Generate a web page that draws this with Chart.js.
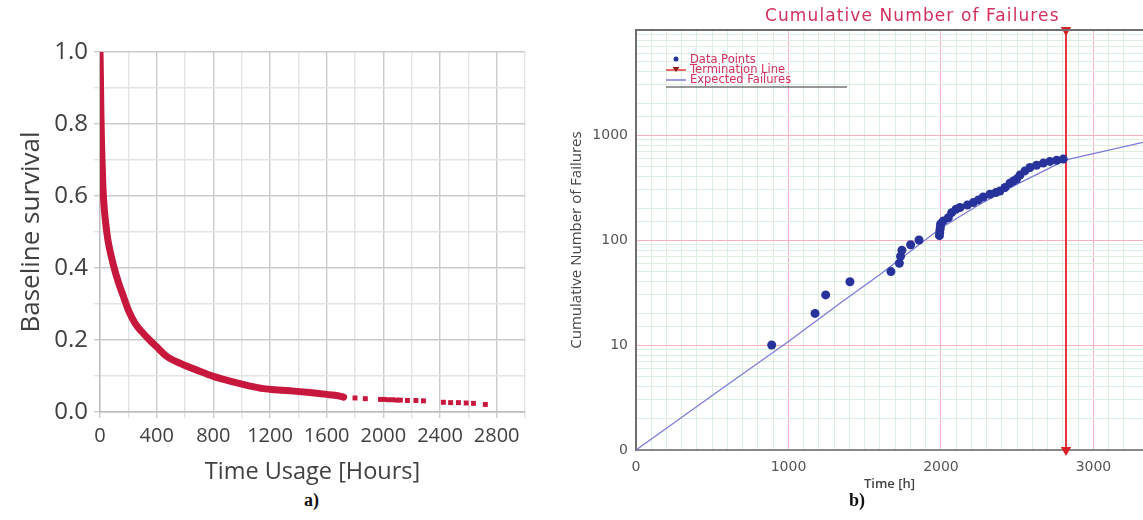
<!DOCTYPE html>
<html>
<head>
<meta charset="utf-8">
<script src="https://cdn.jsdelivr.net/npm/chart.js@4.4.0/dist/chart.umd.min.js"></script>
<style>
  body { margin: 0; background: #fff; width: 1143px; height: 520px; position: relative; overflow: hidden; }
  .box { position: absolute; }
  .cap { position: absolute; font: bold 18px "Liberation Serif", serif; color: #111; }
  #failTitle { position: absolute; left: 765px; top: 5px; font: 17px "DejaVu Sans", sans-serif; letter-spacing: 1.1px; color: #d3305c; white-space: nowrap; }
</style>
</head>
<body>
<div class="box" style="left:0;top:0;width:560px;height:490px"><canvas id="survChart" width="560" height="490"></canvas></div>
<div class="box" style="left:560px;top:0;width:583px;height:495px"><canvas id="failChart" width="583" height="495"></canvas></div>
<div id="failTitle">Cumulative Number of Failures</div>
<div class="cap" style="left:304px;top:490px">a)</div>
<div class="cap" style="left:849px;top:490px">b)</div>

<script>
// a) baseline survival curve (read off the picture)
const survTimes  = [0, 3, 6, 10, 15, 20, 30, 40, 55, 75, 100, 130, 160, 200, 250, 300, 350, 400, 470, 560, 680, 800, 880, 966, 1060, 1154, 1260, 1366, 1480, 1600, 1680, 1720];
const survValues = [1.0, 0.93, 0.84, 0.76, 0.69, 0.63, 0.565, 0.525, 0.48, 0.44, 0.40, 0.36, 0.327, 0.283, 0.245, 0.221, 0.2, 0.181, 0.155, 0.136, 0.117, 0.099, 0.09, 0.081, 0.072, 0.065, 0.061, 0.058, 0.054, 0.049, 0.045, 0.041];
const tailTimes  = [1800, 1873, 1980, 2005, 2035, 2065, 2095, 2120, 2170, 2230, 2283, 2424, 2475, 2530, 2585, 2636, 2720];
const tailValues = [0.039, 0.037, 0.035, 0.035, 0.034, 0.034, 0.033, 0.033, 0.032, 0.032, 0.031, 0.027, 0.026, 0.026, 0.025, 0.024, 0.021];

// b) cumulative number of failures
const failTimes  = [890, 1174, 1244, 1403, 1672, 1727, 1735, 1744, 1801, 1856, 1990, 1992, 1994, 1996, 1998, 2015, 2048, 2070, 2098, 2125, 2173, 2212, 2245, 2277, 2321, 2360, 2387, 2420, 2452, 2475, 2496, 2518, 2551, 2584, 2627, 2671, 2715, 2759, 2802];
const failCounts = [10, 20, 30, 40, 50, 60, 70, 80, 90, 100, 110, 118, 126, 134, 142, 152, 163, 182, 196, 204, 215, 227, 241, 257, 273, 283, 293, 316, 348, 365, 380, 415, 455, 490, 515, 540, 560, 575, 590];
const expectedTimes  = [0, 500, 1000, 1338, 1600, 2000, 2256, 2500, 2820, 3325];
const expectedCounts = [1, 3.3, 10.8, 25, 47, 130, 219, 340, 580, 850];
const terminationTime = 2820;
const failTickValues = [1, 10, 100, 1000];
const failTickLabels = ['0', '10', '100', '1000'];

function pts(xs, ys) {
    return xs.map((x, i) => ({ x: x, y: ys[i] }));
}

const red = '#c8173c';
const txt = '#404040';
const sans = 'Open Sans';

new Chart(document.getElementById('survChart'), {
    type: 'scatter',
    data: {
        datasets: [{
            label: 'Baseline survival',
            data: pts(survTimes, survValues),
            showLine: true,
            cubicInterpolationMode: 'monotone',
            borderColor: red,
            borderWidth: 7,
            borderCapStyle: 'round',
            borderJoinStyle: 'round',
            pointRadius: 0
        }, {
            label: 'tail',
            data: pts(tailTimes, tailValues),
            pointStyle: 'rect',
            pointRadius: 3.5,
            backgroundColor: red,
            borderWidth: 0
        }]
    },
    options: {
        responsive: false,
        animation: false,
        layout: { autoPadding: false, padding: { top: 52, right: 35, left: 0, bottom: 0 } },
        plugins: { legend: { display: false }, tooltip: { enabled: false } },
        scales: {
            x: {
                type: 'linear', min: 0, max: 3000,
                afterFit: s => { s.height = 78; },
                ticks: {
                    stepSize: 200, autoSkip: false, maxRotation: 0, padding: 6,
                    color: txt, font: { family: sans, size: 20 },
                    callback: v => (v % 400 === 0 ? String(v) : '')
                },
                grid: {
                    color: c => (c.tick && c.tick.value % 400 === 0 ? '#cbcbcb' : '#e4e4e4'),
                    lineWidth: 1.4, tickLength: 6
                },
                border: { color: '#bdbdbd', width: 1.4 },
                title: { display: true, text: 'Time Usage [Hours]', color: txt, font: { family: sans, size: 23.5 }, padding: { top: 0, bottom: 4 } }
            },
            y: {
                min: 0, max: 1,
                afterFit: s => { s.width = 100; },
                ticks: {
                    stepSize: 0.1, autoSkip: false, padding: 6,
                    color: txt, font: { family: sans, size: 24 },
                    callback: v => (Math.round(v * 10) % 2 === 0 ? v.toFixed(1) : '')
                },
                grid: {
                    color: c => (c.tick && Math.round(c.tick.value * 10) % 2 === 0 ? '#cbcbcb' : '#e4e4e4'),
                    lineWidth: 1.4, tickLength: 6
                },
                border: { color: '#bdbdbd', width: 1.4 },
                title: { display: true, text: 'Baseline survival', color: txt, font: { family: sans, size: 26 }, padding: { top: 16, bottom: 0 } }
            }
        }
    }
});

// frame line on top of the plot and the small legend box of b)
const failDecor = {
    id: 'failDecor',
    afterDraw(chart) {
        const ctx = chart.ctx, a = chart.chartArea;
        ctx.save();
        ctx.strokeStyle = '#6f6f6f';
        ctx.lineWidth = 2;
        ctx.beginPath();
        ctx.moveTo(a.left, a.top);
        ctx.lineTo(a.right, a.top);
        ctx.stroke();

        const ds = chart.data.datasets;
        const lx = a.left + 40, tx = a.left + 54;
        ctx.font = '11.5px "DejaVu Sans"';
        ctx.textBaseline = 'middle';
        ds.forEach((d, i) => {
            const y = a.top + 30 + i * 10;
            if (i === 0) {
                ctx.fillStyle = d.backgroundColor;
                ctx.beginPath();
                ctx.arc(lx, y - 1, 2.5, 0, Math.PI * 2);
                ctx.fill();
            } else {
                ctx.strokeStyle = d.borderColor;
                ctx.lineWidth = 1.5;
                ctx.beginPath();
                ctx.moveTo(lx - 10, y);
                ctx.lineTo(lx + 10, y);
                ctx.stroke();
                if (i === 1) {
                    ctx.fillStyle = '#8a1c1c';
                    ctx.beginPath();
                    ctx.moveTo(lx - 3.5, y - 3);
                    ctx.lineTo(lx + 3.5, y - 3);
                    ctx.lineTo(lx, y + 2);
                    ctx.fill();
                }
            }
            ctx.fillStyle = '#d3305c';
            ctx.fillText(d.label, tx, y);
        });
        ctx.strokeStyle = '#333';
        ctx.lineWidth = 1.2;
        ctx.beginPath();
        ctx.moveTo(a.left + 30, a.top + 57);
        ctx.lineTo(a.left + 211, a.top + 57);
        ctx.stroke();
        ctx.restore();
    }
};

const pink = '#f5b3c0';
const green = '#dcefe0';

new Chart(document.getElementById('failChart'), {
    type: 'scatter',
    data: {
        datasets: [{
            label: 'Data Points',
            data: pts(failTimes, failCounts),
            pointRadius: 4.5,
            backgroundColor: '#27339a',
            borderColor: '#27339a',
            borderWidth: 0
        }, {
            label: 'Termination Line',
            data: [{ x: terminationTime, y: 1 }, { x: terminationTime, y: 10000 }],
            showLine: true,
            borderColor: '#e8353d',
            borderWidth: 2,
            pointStyle: 'triangle',
            rotation: 180,
            pointRadius: 6,
            backgroundColor: '#d81f24',
            pointBorderWidth: 0,
            clip: false
        }, {
            label: 'Expected Failures',
            data: pts(expectedTimes, expectedCounts),
            showLine: true,
            borderColor: '#7c7cd8',
            borderWidth: 1.3,
            pointRadius: 0
        }]
    },
    options: {
        responsive: false,
        animation: false,
        layout: { autoPadding: false, padding: { top: 30, right: 0, left: 0, bottom: 0 } },
        plugins: { legend: { display: false }, tooltip: { enabled: false } },
        scales: {
            x: {
                type: 'linear', min: 0, max: 3325,
                afterFit: s => { s.height = 45; },
                ticks: {
                    stepSize: 100, autoSkip: false, maxRotation: 0, padding: 0,
                    color: '#555', font: { family: 'DejaVu Sans', size: 14 },
                    callback: v => (v % 1000 === 0 ? String(v) : '')
                },
                grid: {
                    color: c => (c.tick && c.tick.value % 1000 === 0 ? pink : green),
                    lineWidth: 1, drawTicks: true, tickLength: 9, tickColor: 'rgba(0,0,0,0)'
                },
                border: { color: '#888', width: 2 },
                title: { display: true, text: 'Time [h]', color: '#444', font: { family: sans, size: 13, weight: '600' }, padding: { top: 0, bottom: 3 } }
            },
            y: {
                type: 'logarithmic', min: 1, max: 10000,
                afterFit: s => { s.width = 76; },
                ticks: {
                    autoSkip: false, padding: 8,
                    color: '#555', font: { family: 'DejaVu Sans', size: 14 },
                    callback: v => {
                        const k = failTickValues.indexOf(v);
                        return k >= 0 ? failTickLabels[k] : '';
                    }
                },
                grid: {
                    color: c => (c.tick && failTickValues.concat([10000]).indexOf(c.tick.value) >= 0 ? pink : green),
                    lineWidth: 1, drawTicks: false
                },
                border: { color: '#6f6f6f', width: 2 },
                title: { display: true, text: 'Cumulative Number of Failures', color: '#444', font: { family: sans, size: 15 }, padding: { top: 8, bottom: 0 } }
            }
        }
    },
    plugins: [failDecor]
});
</script>
</body>
</html>
